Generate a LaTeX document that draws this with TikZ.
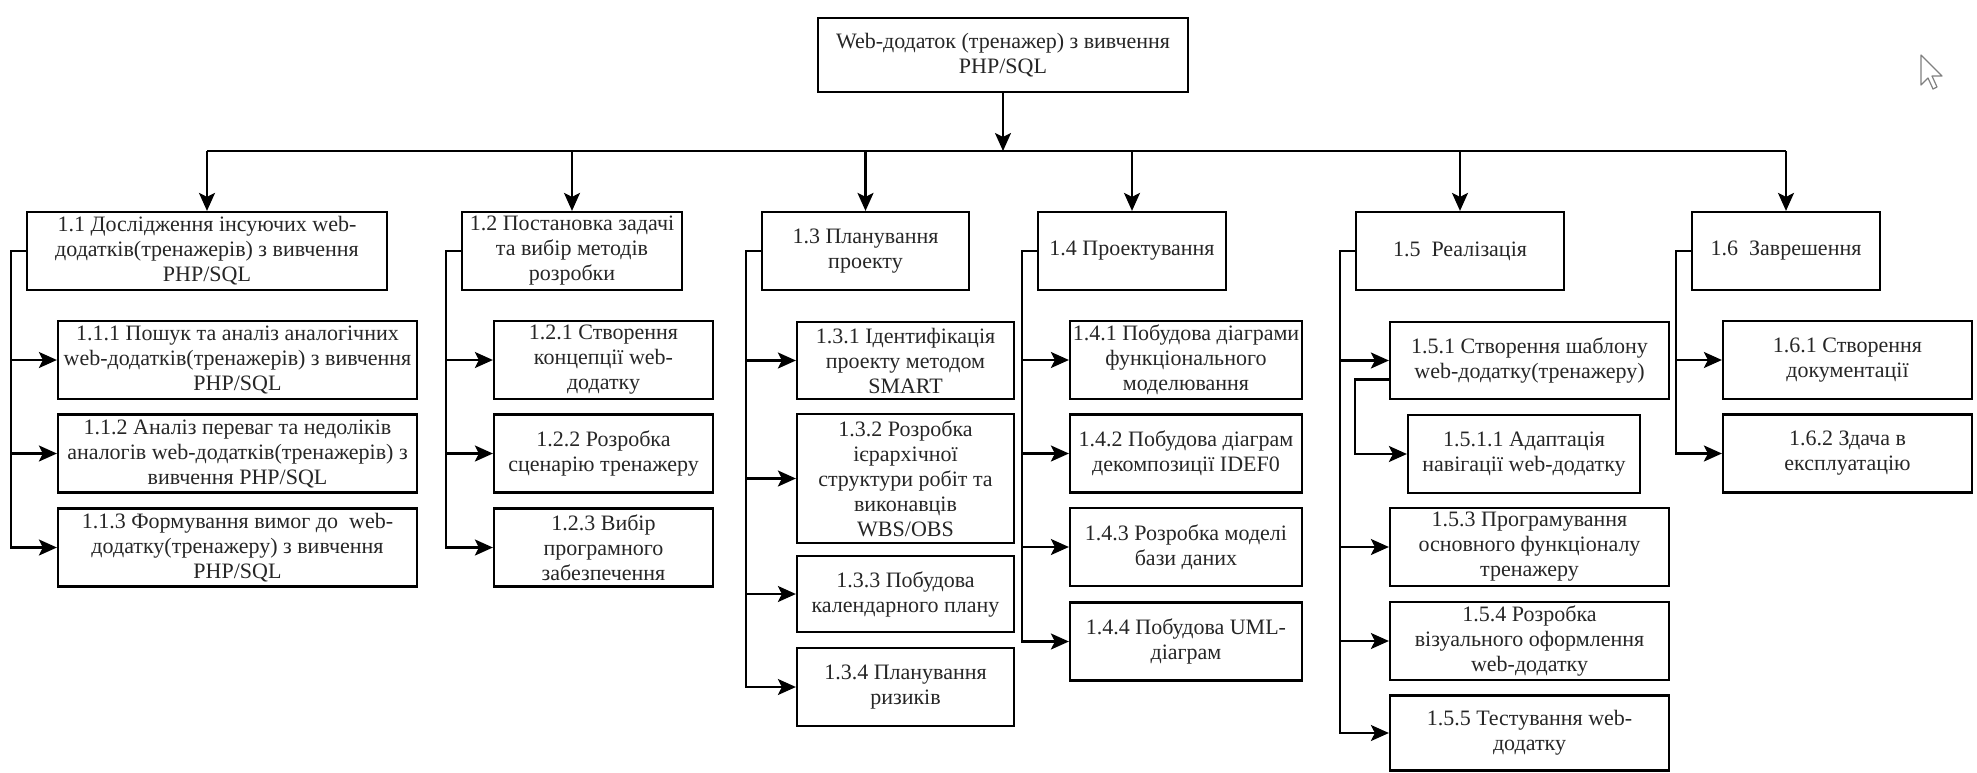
\documentclass[tikz,border=0pt]{standalone}
\usepackage{fontspec}
\setmainfont{Liberation Serif}
\newfontfamily\boxfont{Liberation Serif}
\usetikzlibrary{arrows.meta,calc}

\begin{document}
\begin{tikzpicture}[x=0.5pt,y=-0.5pt,
  box/.style={draw, line width=1.1pt, align=center, inner sep=1pt, text=black!85, font=\boxfont\fontsize{11}{12.5}\selectfont},
  arr/.style={-{Stealth[length=9pt,width=8pt,inset=2pt]}, line width=1.1pt},
  link/.style={line width=1.1pt}]
  \useasboundingbox (0,0) rectangle (1977,772);
  % root
  \node[box, minimum width=185pt, minimum height=37pt] (n0) at (1003,55) {Web-додаток (тренажер) з вивчення\\PHP/SQL};
  % level 1
  \node[box, minimum width=180pt, minimum height=39pt] (n1) at (207,251) {1.1 Дослідження інсуючих web-\\додатків(тренажерів) з вивчення\\PHP/SQL};
  \node[box, minimum width=110pt, minimum height=39pt] (n2) at (572,251) {1.2 Постановка задачі\\та вибір методів\\розробки};
  \node[box, minimum width=103.5pt, minimum height=39pt] (n3) at (865.5,251) {1.3 Планування\\проекту};
  \node[box, minimum width=94pt, minimum height=39pt] (n4) at (1132,251) {1.4 Проектування};
  \node[box, minimum width=104pt, minimum height=39pt] (n5) at (1460,251) {1.5\ \ Реалізація};
  \node[box, minimum width=94pt, minimum height=39pt] (n6) at (1786,251) {1.6\ \ Заврешення};
  % level 2
  \node[box, minimum width=179.5pt, minimum height=39pt] (n11) at (237.5,360) {1.1.1 Пошук та аналіз аналогічних\\web-додатків(тренажерів) з вивчення\\PHP/SQL};
  \node[box, minimum width=179.5pt, minimum height=39pt] (n12) at (237.5,453.5) {1.1.2 Аналіз переваг та недоліків\\аналогів web-додатків(тренажерів) з\\вивчення PHP/SQL};
  \node[box, minimum width=179.5pt, minimum height=39pt] (n13) at (237.5,547.5) {1.1.3 Формування вимог до\ \ web-\\додатку(тренажеру) з вивчення\\PHP/SQL};
  \node[box, minimum width=109.5pt, minimum height=39pt] (n21) at (603.5,360) {1.2.1 Створення\\концепції web-\\додатку};
  \node[box, minimum width=109.5pt, minimum height=39pt] (n22) at (603.5,453.5) {1.2.2 Розробка\\сценарію тренажеру};
  \node[box, minimum width=109.5pt, minimum height=39pt] (n23) at (603.5,547.5) {1.2.3 Вибір\\програмного\\забезпечення};
  \node[box, minimum width=108.5pt, minimum height=38.5pt] (n31) at (905.5,360.5) {1.3.1 Ідентифікація\\проекту методом\\SMART};
  \node[box, minimum width=108.5pt, minimum height=64.5pt] (n32) at (905.5,478.5) {1.3.2 Розробка\\ієрархічної\\структури робіт та\\виконавців\\WBS/OBS};
  \node[box, minimum width=108.5pt, minimum height=38pt] (n33) at (905.5,594) {1.3.3 Побудова\\календарного плану};
  \node[box, minimum width=108.5pt, minimum height=39pt] (n34) at (905.5,687) {1.3.4 Планування\\ризиків};
  \node[box, minimum width=116pt, minimum height=39pt] (n41) at (1186,360) {1.4.1 Побудова діаграми\\функціонального\\моделювання};
  \node[box, minimum width=116pt, minimum height=39pt] (n42) at (1186,453.5) {1.4.2 Побудова діаграм\\декомпозиції IDEF0};
  \node[box, minimum width=116pt, minimum height=39pt] (n43) at (1186,547) {1.4.3 Розробка моделі\\бази даних};
  \node[box, minimum width=116pt, minimum height=39pt] (n44) at (1186,641.5) {1.4.4 Побудова UML-\\діаграм};
  \node[box, minimum width=139.5pt, minimum height=38.5pt] (n51) at (1529.5,360.5) {1.5.1 Створення шаблону\\web-додатку(тренажеру)};
  \node[box, minimum width=116pt, minimum height=39pt] (n511) at (1524,454) {1.5.1.1 Адаптація\\навігації web-додатку};
  \node[box, minimum width=139.5pt, minimum height=39pt] (n53) at (1529.5,547) {1.5.3 Програмування\\основного функціоналу\\тренажеру};
  \node[box, minimum width=139.5pt, minimum height=39pt] (n54) at (1529.5,641) {1.5.4 Розробка\\візуального оформлення\\web-додатку};
  \node[box, minimum width=139.5pt, minimum height=37.5pt] (n55) at (1529.5,733) {1.5.5 Тестування web-\\додатку};
  \node[box, minimum width=124.5pt, minimum height=39pt] (n61) at (1847.5,360) {1.6.1 Створення\\документації};
  \node[box, minimum width=124.5pt, minimum height=39pt] (n62) at (1847.5,453.5) {1.6.2 Здача в\\експлуатацію};

  % root to level 1
  \coordinate (bus) at (1003,151);
  \draw[arr] (n0) -- (bus);
  \draw[link] (n1 |- bus) -- (n6 |- bus);
  \foreach \n in {n1,n2,n3,n4,n5,n6}
    \draw[arr] (\n |- bus) -- (\n.north);
  % level 1 to level 2
  \foreach \p/\cs in {n1/{n11,n12,n13}, n2/{n21,n22,n23}, n3/{n31,n32,n33,n34},
      n4/{n41,n42,n43,n44}, n5/{n51,n53,n54,n55}, n6/{n61,n62}}
    \foreach \c in \cs
      \draw[arr] (\p.west) -- ++(-15,0) |- (\c.west);
  \draw[arr] ([yshift=-9.5pt]n51.west) -- ++(-34,0) |- (n511.west);

  % mouse pointer
  \draw[gray, line width=0.6pt, line join=round] (1921,55) -- ++(0,30) -- ++(7,-7) -- ++(5,11) -- ++(4,-2) -- ++(-5,-11) -- ++(10,0) -- cycle;
\end{tikzpicture}
\end{document}
